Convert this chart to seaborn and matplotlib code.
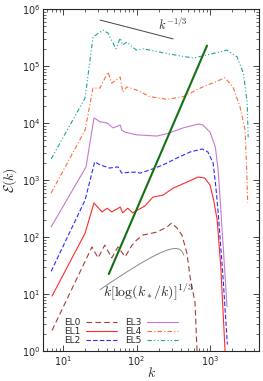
import numpy as np
import pandas as pd
import matplotlib
matplotlib.use("Agg")
import matplotlib.pyplot as plt
import seaborn as sns

sns.set_style("ticks")
plt.rcParams["font.family"] = ["DejaVu Sans"]

# energy spectra (k, E(k))
k_el0 = [7.1, 24.8, 30, 37, 46, 56, 70, 87, 100, 122, 190, 260, 300, 355, 415, 485, 535, 625, 665]
e_el0 = [2.3, 67, 43, 72, 43, 67, 45, 72, 88, 108, 122, 150, 176, 144, 108, 52, 20, 7, 1.0]

k_el1 = [7.1, 20, 26.4, 34, 40, 46, 60, 65, 76, 89, 100, 130, 167, 230, 315, 485, 690, 850, 1000, 1120, 1250, 1400, 1600]
e_el1 = [9.2, 117, 395, 275, 320, 275, 335, 265, 320, 265, 290, 350, 500, 545, 720, 920, 1130, 1080, 815, 445, 200, 30, 1.0]

k_el2 = [6.9, 20, 27, 32, 43, 56, 63, 81, 100, 112, 152, 230, 355, 535, 780, 935, 1100, 1200, 1290, 1500, 1720]
e_el2 = [25, 445, 2080, 1840, 1620, 1700, 1320, 1370, 1370, 1320, 1500, 1840, 2430, 3100, 3500, 3100, 2000, 750, 265, 20, 1.3]

k_el3 = [6.9, 20.6, 26.4, 32, 40, 48, 60, 63, 70, 81, 100, 190, 270, 430, 690, 800, 1000, 1180, 1290, 1380, 1550, 1700]
e_el3 = [150, 1700, 12300, 10500, 10000, 8200, 9200, 7500, 6900, 6600, 6200, 5900, 6600, 8200, 9600, 9200, 6900, 3800, 1500, 400, 40, 6]

k_el4 = [6.9, 20, 25.6, 31.8, 41, 46, 60, 65, 74, 88, 100, 152, 260, 430, 800, 1200, 1590, 2050, 2560, 3000, 3150, 3250]
e_el4 = [590, 7500, 41000, 41000, 78000, 50000, 64000, 35000, 43000, 40000, 38000, 29000, 26000, 29000, 43000, 53000, 62000, 43000, 19000, 7500, 1500, 400]

k_el5 = [6.9, 20, 25.6, 35, 41, 52.6, 60, 65, 74, 88, 100, 125, 152, 190, 230, 300, 400, 590, 910, 1300, 1700, 2330, 2840, 3200, 3300]
e_el5 = [2340, 27500, 323000, 427000, 377000, 200000, 310000, 234000, 264000, 215000, 190000, 200000, 190000, 180000, 170000, 160000, 150000, 138000, 156000, 175000, 190000, 145000, 75000, 22500, 5600]

# reference slopes
k_green = [42, 910]
e_green = [22.4, 22.4 * (910 / 42) ** 3]
k_m13 = [32, 315]
e_m13 = [640000, 640000 * (315 / 32) ** (-1 / 3)]
k_star, amp = 470.0, 0.269
k_log = np.geomspace(32, 440, 80)
e_log = amp * k_log * np.log(k_star / k_log) ** (1 / 3)

series = [
    ("EL0", k_el0, e_el0, "#a83a3a", (0, (5, 3))),
    ("EL1", k_el1, e_el1, "#ff2a2a", "-"),
    ("EL2", k_el2, e_el2, "#2a2aff", (0, (4, 2))),
    ("EL3", k_el3, e_el3, "#c47ccc", "-"),
    ("EL4", k_el4, e_el4, "#ff6a3a", (0, (4, 2, 1, 2))),
    ("EL5", k_el5, e_el5, "#20a0a0", (0, (4, 2, 1, 2, 1, 2))),
]

fig = plt.figure(figsize=(2.63, 3.81), dpi=100)
ax = fig.add_axes([0.1635, 0.0787, 0.8215, 0.8977])

for name, k, e, c, ls in series:
    df = pd.DataFrame({"k": k, "E": e})
    sns.lineplot(data=df, x="k", y="E", ax=ax, color=c, linestyle=ls,
                 lw=0.8, label=name, estimator=None, sort=False)

sns.lineplot(x=k_green, y=e_green, ax=ax, color="#137013", lw=1.5, estimator=None)
sns.lineplot(x=k_m13, y=e_m13, ax=ax, color="#444444", lw=0.7, estimator=None)
sns.lineplot(x=k_log, y=e_log, ax=ax, color="#888888", lw=0.7, estimator=None)

ax.set(xscale="log", yscale="log")
ax.set_xlim(5.35, 4640)
ax.set_ylim(1, 1e6)

ax.text(314, 5.2e5, r"$k^{-1/3}$", ha="center", va="center", fontsize=9, math_fontfamily="cm")
ax.text(143, 10.8, r"$k[\log(k_*/k)]^{1/3}$", ha="center", va="center", fontsize=10, math_fontfamily="cm")

ax.set_xlabel(r"$k$", fontsize=10, math_fontfamily="cm", labelpad=-1)
ax.set_ylabel(r"$\mathcal{E}(k)$", fontsize=10, math_fontfamily="cm", labelpad=2)

ax.tick_params(which="both", direction="in", top=True, right=True, labelsize=7)
ax.tick_params(which="major", length=4, width=0.6, pad=2)
ax.tick_params(which="minor", length=2, width=0.5)
for s in ax.spines.values():
    s.set_linewidth(0.8)

handles, labels = ax.get_legend_handles_labels()
ax.legend(handles[:6], labels[:6], ncol=2, loc="lower left", bbox_to_anchor=(0.07, 0.0),
          frameon=False, fontsize=6.5, markerfirst=False, handlelength=3.4,
          columnspacing=0.9, labelspacing=0.0, handletextpad=0.6, borderaxespad=0.3)

fig.savefig("out.png", dpi=100)
